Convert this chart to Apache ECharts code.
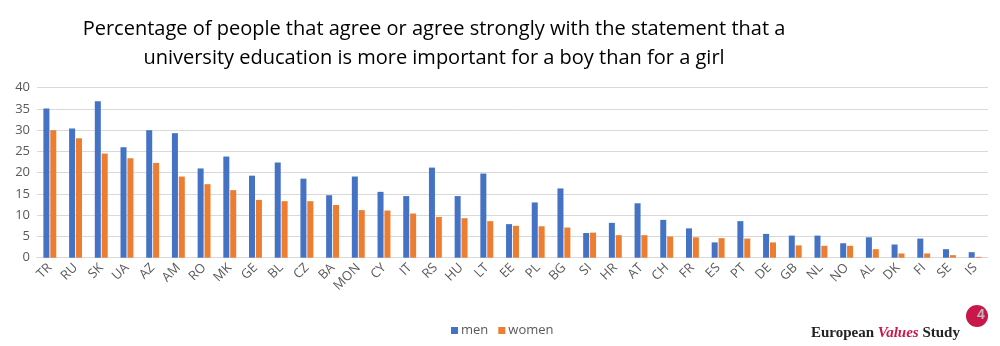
<!DOCTYPE html>
<html>
<head>
<meta charset="utf-8">
<script src="https://cdn.jsdelivr.net/npm/echarts@6/dist/echarts.min.js"></script>
<style>html,body{margin:0;padding:0;background:#fff}#c{width:1000px;height:346px}</style>
</head>
<body>
<div id="c"></div>
<script>
const categories = ['TR','RU','SK','UA','AZ','AM','RO','MK','GE','BL','CZ','BA','MON','CY','IT','RS','HU','LT','EE','PL','BG','SI','HR','AT','CH','FR','ES','PT','DE','GB','NL','NO','AL','DK','FI','SE','IS'];
const men =   [35.1,30.4,36.8,26.0,30.0,29.3,21.0,23.8,19.3,22.4,18.6,14.7,19.1,15.5,14.5,21.2,14.5,19.8,7.9,13.0,16.3,5.8,8.2,12.8,8.9,6.9,3.6,8.6,5.6,5.2,5.2,3.4,4.8,3.1,4.5,2.0,1.3];
const women = [30.0,28.1,24.5,23.4,22.3,19.1,17.3,15.9,13.6,13.3,13.3,12.4,11.2,11.1,10.4,9.6,9.3,8.6,7.5,7.4,7.1,5.9,5.3,5.3,5.0,4.8,4.6,4.5,3.6,2.9,2.8,2.8,2.0,1.0,1.0,0.6,0.2];
const seriesNames = ['men','women'];
const titleText = 'Percentage of people that agree or agree strongly with the statement that a\nuniversity education is more important for a boy than for a girl';

const chart = echarts.init(document.getElementById('c'), null, {renderer:'canvas'});
chart.setOption({
  animation: false,
  backgroundColor: '#ffffff',
  title: {
    text: titleText,
    left: 429, top: 10, textAlign: 'center',
    textStyle: {fontFamily: 'Open Sans', fontWeight: 'normal', fontSize: 20, color: '#000', lineHeight: 29}
  },
  legend: {
    data: seriesNames, left: 446, top: 319, itemWidth: 7, itemHeight: 7, itemGap: 10,
    icon: 'rect',
    textStyle: {fontFamily: 'Open Sans', fontSize: 13, color: '#595959', padding: [0,0,0,-2]}
  },
  grid: {left: 37, right: 12, top: 87.7, bottom: 88.3, containLabel: false},
  xAxis: {
    type: 'category', data: categories,
    axisLine: {lineStyle: {color: '#d9d9d9', width: 1}},
    axisTick: {show: false},
    axisLabel: {rotate: 45, interval: 0, color: '#595959', fontFamily: 'Open Sans', fontSize: 13, margin: 8}
  },
  yAxis: {
    type: 'value', min: 0, max: 40, interval: 5,
    axisLine: {show: false}, axisTick: {show: false},
    splitLine: {lineStyle: {color: '#d9d9d9', width: 1}},
    axisLabel: {color: '#595959', fontFamily: 'Open Sans', fontSize: 13, margin: 7}
  },
  series: [
    {name: seriesNames[0], type: 'bar', data: men, barWidth: 6, barGap: '15%', itemStyle: {color: '#4472C4'}},
    {name: seriesNames[1], type: 'bar', data: women, barWidth: 6, barGap: '15%', itemStyle: {color: '#ED7D31'}}
  ],
  graphic: [
    {type: 'text', left: 811, top: 326, style: {
      text: '{a|European }{b|Values}{a| Study}',
      rich: {
        a: {fontFamily: 'Liberation Serif', fontWeight: 'bold', fontSize: 15, fill: '#222'},
        b: {fontFamily: 'Liberation Serif', fontWeight: 'bold', fontStyle: 'italic', fontSize: 15, fill: '#c8174a'}
      }
    }},
    {type: 'circle', shape: {cx: 977, cy: 316, r: 11}, style: {fill: '#c8174a'}},
    {type: 'text', left: 977, top: 308, style: {text: '4', fontFamily: 'Liberation Sans', fontWeight: 'bold', fontSize: 14, fill: '#bbbbbb'}}
  ]
});
</script>
</body>
</html>
